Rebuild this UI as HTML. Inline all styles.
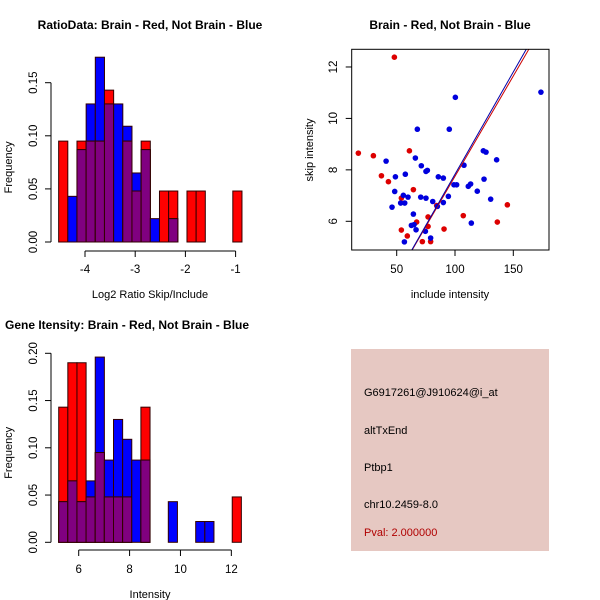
<!DOCTYPE html>
<html><head><meta charset="utf-8"><style>
html,body{margin:0;padding:0;background:#fff;}
svg{display:block;font-family:"Liberation Sans",sans-serif;}
</style></head><body>
<svg id="chart" width="600" height="600" viewBox="0 0 600 600">
<rect x="0" y="0" width="600" height="600" fill="#fff"/>
<g id="p1"></g>
<g id="p2"></g>
<g id="p3"></g>
<g>
<rect x="351" y="349" width="198" height="202" fill="#e6c8c2"/>
<text x="364" y="396" font-size="11" fill="#000">G6917261@J910624@i_at</text>
<text x="364" y="434" font-size="11" fill="#000">altTxEnd</text>
<text x="364" y="471" font-size="11" fill="#000">Ptbp1</text>
<text x="364" y="508" font-size="11" fill="#000">chr10.2459-8.0</text>
<text x="364" y="536" font-size="11" fill="#b00000">Pval: 2.000000</text>
</g>
</svg>
<script>
// ---- Ratio histogram data ----
const ratioBinStart = -4.525;
const ratioBinWidth = 0.1826;
const ratioRed  = [0.095,0,0.095,0.095,0.095,0.143,0,0.095,0.048,0.095,0,0.048,0.048,0,0.048,0.048,0,0,0,0.048];
const ratioBlue = [0,0.043,0.087,0.130,0.174,0.130,0.130,0.109,0.065,0.087,0.022,0,0.022,0,0,0,0,0,0,0];
const ratioXTicks = [-4,-3,-2,-1];
const ratioYTicks = ["0.00","0.05","0.10","0.15"];
// ---- Intensity histogram data ----
const intBinStart = 5.214;
const intBinWidth = 0.359;
const intRed  = [0.143,0.190,0.190,0.048,0.095,0.048,0.048,0.048,0,0.143,0,0,0,0,0,0,0,0,0,0.048];
const intBlue = [0.043,0.065,0.043,0.065,0.196,0.087,0.130,0.109,0.087,0.087,0,0,0.043,0,0,0.022,0.022,0,0,0];
const intXTicks = [6,8,10,12];
const intYTicks = ["0.00","0.05","0.10","0.15","0.20"];
// ---- Scatter data ----
const redInclude = [48.0,17.1,30.0,36.9,42.9,60.9,64.3,54.0,67.1,76.9,76.9,54.0,59.1,72.0,79.1,90.6,107.1,136.3,144.9,84.3];
const redSkip    = [12.38,8.65,8.55,7.77,7.54,8.74,7.23,6.90,5.97,6.17,5.80,5.66,5.43,5.21,5.21,5.70,6.22,5.97,6.64,6.61];
const blueInclude = [173.7,100.3,67.7,95.1,40.9,66.0,71.1,75.1,76.3,57.4,48.9,85.7,90.0,99.1,101.4,107.7,124.3,126.6,135.7,124.9,111.4,113.4,119.1,48.3,55.7,53.4,56.9,59.7,70.6,75.1,80.9,90.0,94.3,84.9,46.0,64.3,62.6,64.9,66.6,74.6,56.6,79.1,114.0,130.6];
const blueSkip    = [11.02,10.82,9.58,9.58,8.34,8.46,8.16,7.94,7.98,7.83,7.73,7.73,7.68,7.42,7.42,8.18,8.74,8.69,8.39,7.64,7.36,7.45,7.17,7.16,7.01,6.71,6.71,6.94,6.94,6.90,6.77,6.73,6.97,6.58,6.55,6.28,5.84,5.87,5.67,5.61,5.20,5.35,5.93,6.86];
const fitIntercept = [-0.05,-0.12]; // red, blue
const fitSlope = [0.0780,0.0795];
const scatterXTicks = [50,100,150];
const scatterYTicks = [6,8,10,12];

const NS="http://www.w3.org/2000/svg";
function mk(parent,tag,attrs,text){const e=document.createElementNS(NS,tag);for(const k in attrs)e.setAttribute(k,attrs[k]);if(text!==undefined)e.textContent=text;parent.appendChild(e);return e;}

function hist(g,title,titleX,titleY,titleAnchor,xlab,binStart,binW,red,blue,xTicks,yTicks,xs,ys,y0,axY,xTickLabY,xlabY){
  const t=mk(g,'text',{x:titleX,y:titleY,'font-size':12,'font-weight':'bold','text-anchor':titleAnchor},title);
  
  
  for(let i=0;i<red.length;i++){
    const x0=xs(binStart+i*binW), x1=xs(binStart+(i+1)*binW);
    const r=red[i], b=blue[i], m=Math.min(r,b);
    const order = r>=b ? [['red',r],['blue',b]] : [['blue',b],['red',r]];
    for(const [c,v] of order){
      if(v<=0) continue;
      const rc=mk(g,'rect',{x:x0,y:ys(v),width:x1-x0,height:y0-ys(v),fill:c==='red'?'#ff0000':'#0000ff',stroke:'#300','stroke-width':1});
      
      
    }
    if(m>0){
      const pr=mk(g,'rect',{x:x0,y:ys(m),width:x1-x0,height:y0-ys(m),fill:'#800080',stroke:'#300','stroke-width':1});
      
      
    }
  }
  const xa=mk(g,'g',{});
  
  
  mk(xa,'line',{x1:xs(xTicks[0]),x2:xs(xTicks[xTicks.length-1]),y1:axY,y2:axY,stroke:'#000'});
  for(const v of xTicks){
    mk(xa,'line',{x1:xs(v),x2:xs(v),y1:axY,y2:axY+6,stroke:'#000'});
    const tl=mk(xa,'text',{x:xs(v),y:xTickLabY,'font-size':11.5,'text-anchor':'middle'},String(v));
    
    
  }
  const xl=mk(g,'text',{x:150,y:xlabY,'font-size':11,'text-anchor':'middle'},xlab);
  
  
  const ya=mk(g,'g',{});
  
  
  const yv=yTicks.map(Number);
  mk(ya,'line',{x1:51,x2:51,y1:ys(yv[0]),y2:ys(yv[yv.length-1]),stroke:'#000'});
  for(const s of yTicks){
    const y=ys(Number(s));
    mk(ya,'line',{x1:45,x2:51,y1:y,y2:y,stroke:'#000'});
    const tl=mk(ya,'text',{x:0,y:0,'font-size':11.5,'text-anchor':'middle',transform:`translate(37,${y}) rotate(-90)`},s);
    
    
  }
  const yl=mk(g,'text',{x:0,y:0,'font-size':11,'text-anchor':'middle',transform:`translate(12,${(ys(0)+ys(yv[yv.length-1]))/2+5}) rotate(-90)`},'Frequency');
  
  
}

{
  const xs=v=>85+(v+4)*50.2, ys=v=>242-v*1062;
  hist(document.getElementById('p1'),'RatioData: Brain - Red, Not Brain - Blue',150,29,'middle','Log2 Ratio Skip/Include',
    ratioBinStart,ratioBinWidth,ratioRed,ratioBlue,ratioXTicks,ratioYTicks,xs,ys,242,251,273,298);
}
{
  const xs=v=>78.7+(v-6)*25.44, ys=v=>542.3-v*945;
  hist(document.getElementById('p3'),'Gene Itensity: Brain - Red, Not Brain - Blue',5,329,'start','Intensity',
    intBinStart,intBinWidth,intRed,intBlue,intXTicks,intYTicks,xs,ys,542.3,550,573,598);
}
{
  const g=document.getElementById('p2');
  const L=351.7,R=549,T=49.3,B=250;
  const xs=v=>396.7+(v-50)*1.166, ys=v=>221.3-(v-6)*25.72;
  const t=mk(g,'text',{x:450,y:29,'font-size':12,'font-weight':'bold','text-anchor':'middle'},'Brain - Red, Not Brain - Blue');
  
  
  const cp=mk(g,'clipPath',{id:'clip2'});
  mk(cp,'rect',{x:L,y:T,width:R-L,height:B-T});
  const pts=mk(g,'g',{'clip-path':'url(#clip2)'});
  for(let i=0;i<redInclude.length;i++){
    const c=mk(pts,'circle',{cx:xs(redInclude[i]),cy:ys(redSkip[i]),r:2.8,fill:'#dd0000'});
    
    
  }
  for(let i=0;i<blueInclude.length;i++){
    const c=mk(pts,'circle',{cx:xs(blueInclude[i]),cy:ys(blueSkip[i]),r:2.8,fill:'#0000dd'});
    
    
  }
  const colors=['#cc0000','#0000aa'], names=['red-fit-line','blue-fit-line'];
  for(let k=0;k<2;k++){
    const xa=0, xb=250;
    const ln=mk(pts,'line',{x1:xs(xa),y1:ys(fitIntercept[k]+fitSlope[k]*xa),x2:xs(xb),y2:ys(fitIntercept[k]+fitSlope[k]*xb),stroke:colors[k],'stroke-width':1});
    
    
  }
  mk(g,'rect',{x:L,y:T,width:R-L,height:B-T,fill:'none',stroke:'#000'});
  for(const v of scatterXTicks){
    mk(g,'line',{x1:xs(v),x2:xs(v),y1:B,y2:B+6,stroke:'#000'});
    const tl=mk(g,'text',{x:xs(v),y:273,'font-size':11.5,'text-anchor':'middle'},String(v));
    
    
  }
  for(const v of scatterYTicks){
    const y=ys(v);
    mk(g,'line',{x1:L-6,x2:L,y1:y,y2:y,stroke:'#000'});
    const tl=mk(g,'text',{x:0,y:0,'font-size':11.5,'text-anchor':'middle',transform:`translate(337,${y}) rotate(-90)`},String(v));
    
    
  }
  const xl=mk(g,'text',{x:450,y:298,'font-size':11,'text-anchor':'middle'},'include intensity');
  
  
  const yl=mk(g,'text',{x:0,y:0,'font-size':11,'text-anchor':'middle',transform:`translate(313,150) rotate(-90)`},'skip intensity');
  
  
}
</script>
</body></html>
